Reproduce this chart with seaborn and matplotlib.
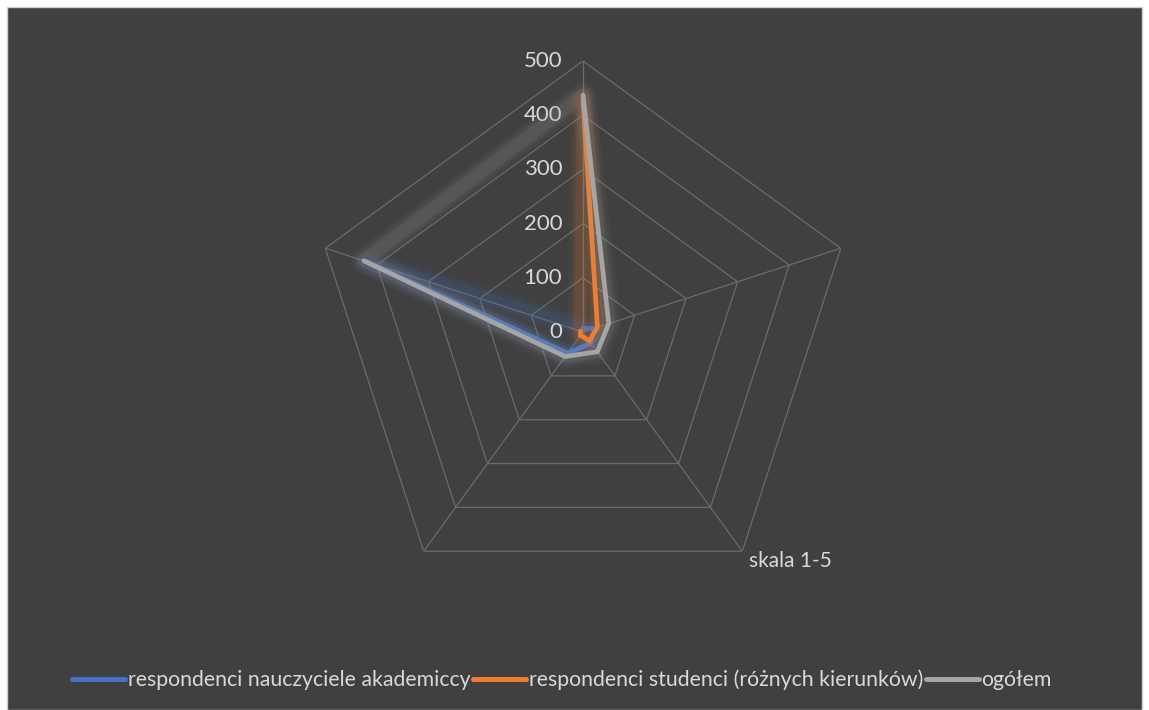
import numpy as np
import pandas as pd
import seaborn as sns
import matplotlib.pyplot as plt
from matplotlib.patches import Rectangle
from matplotlib.lines import Line2D

# Dane
osie = ["", "", "skala 1-5", "", ""]
nauczyciele = [7, 22, 25, 48, 420]
studenci = [430, 28, 20, 8, 5]
ogolem = [437, 50, 45, 56, 425]
serie = ["respondenci nauczyciele akademiccy",
         "respondenci studenci (różnych kierunków)",
         "ogółem"]
kolory = ["#4472C4", "#ED7D31", "#A5A5A5"]
pierscienie = [100, 200, 300, 400, 500]

sns.set_style("dark")
plt.rcParams['font.family'] = ['Lato', 'DejaVu Sans']

W, H = 1149, 710
fig = plt.figure(figsize=(W / 100, H / 100), dpi=100, facecolor="white")
fig.patches.append(Rectangle((7 / W, 0), (W - 14) / W, (H - 7) / H,
                             transform=fig.transFigure, facecolor="#404040",
                             edgecolor="#d0d0d0", lw=1, zorder=-5))

ax = fig.add_axes([312 / W, 107 / H, 542 / W, 542 / H], projection="polar")
ax.set_facecolor("none")
ax.set_theta_offset(np.pi / 2)
ax.set_theta_direction(-1)
ax.set_ylim(0, 500)
ax.grid(False)
ax.spines["polar"].set_visible(False)

n = len(osie)
katy = np.linspace(0, 2 * np.pi, n, endpoint=False)
zamk = np.append(katy, katy[0])

# siatka wielokątna
for r in pierscienie:
    ax.plot(zamk, [r] * (n + 1), color="#6b6b6b", lw=0.9, zorder=1)
for t in katy:
    ax.plot([t, t], [0, 500], color="#6b6b6b", lw=0.9, zorder=1)

# etykiety osi radialnej
for r in [0] + pierscienie:
    ax.annotate(str(r), xy=(0, r), xytext=(-15, 0), textcoords="offset points",
                ha="right", va="center", color="#d9d9d9", fontsize=16)

for t, lab in zip(katy, osie):
    if lab:
        ax.annotate(lab, xy=(t, 500), xytext=(5, 0), textcoords="offset points",
                    ha="left", va="top", color="#d9d9d9", fontsize=15)

# dane w formacie długim
df = pd.DataFrame({
    "kat": np.tile(zamk, 3),
    "wartosc": (nauczyciele + nauczyciele[:1] + studenci + studenci[:1]
                + ogolem + ogolem[:1]),
    "seria": np.repeat(serie, n + 1),
})

for i, (s, c) in enumerate(zip(serie, kolory)):
    d = df[df["seria"] == s]
    # poświata
    for lw, a in [(18, 0.05), (13, 0.08), (9, 0.12)]:
        ax.plot(d["kat"], d["wartosc"], color=c, lw=lw, alpha=a,
                solid_joinstyle="round", zorder=2 + 2 * i)
    sns.lineplot(data=d, x="kat", y="wartosc", sort=False, color=c, lw=3.4,
                 ax=ax, zorder=3 + 2 * i, legend=False)
    ax.lines[-1].set_solid_joinstyle("miter")
ax.set_xlabel("")
ax.set_ylabel("")
ax.set_xticks([])
ax.set_yticks([])
ax.set_ylim(0, 500)

uchwyty = [Line2D([0], [0], color=c, lw=3.6, solid_capstyle="round") for c in kolory]
leg = fig.legend(uchwyty, serie, loc="center", bbox_to_anchor=(562 / W, 1 - 680 / H),
                 ncol=3, frameon=False, fontsize=15.3, handlelength=2.5,
                 handletextpad=0.1, columnspacing=0.15, borderpad=0)
for t in leg.get_texts():
    t.set_color("#d9d9d9")

fig.savefig("out.png", dpi=100, facecolor=fig.get_facecolor())
